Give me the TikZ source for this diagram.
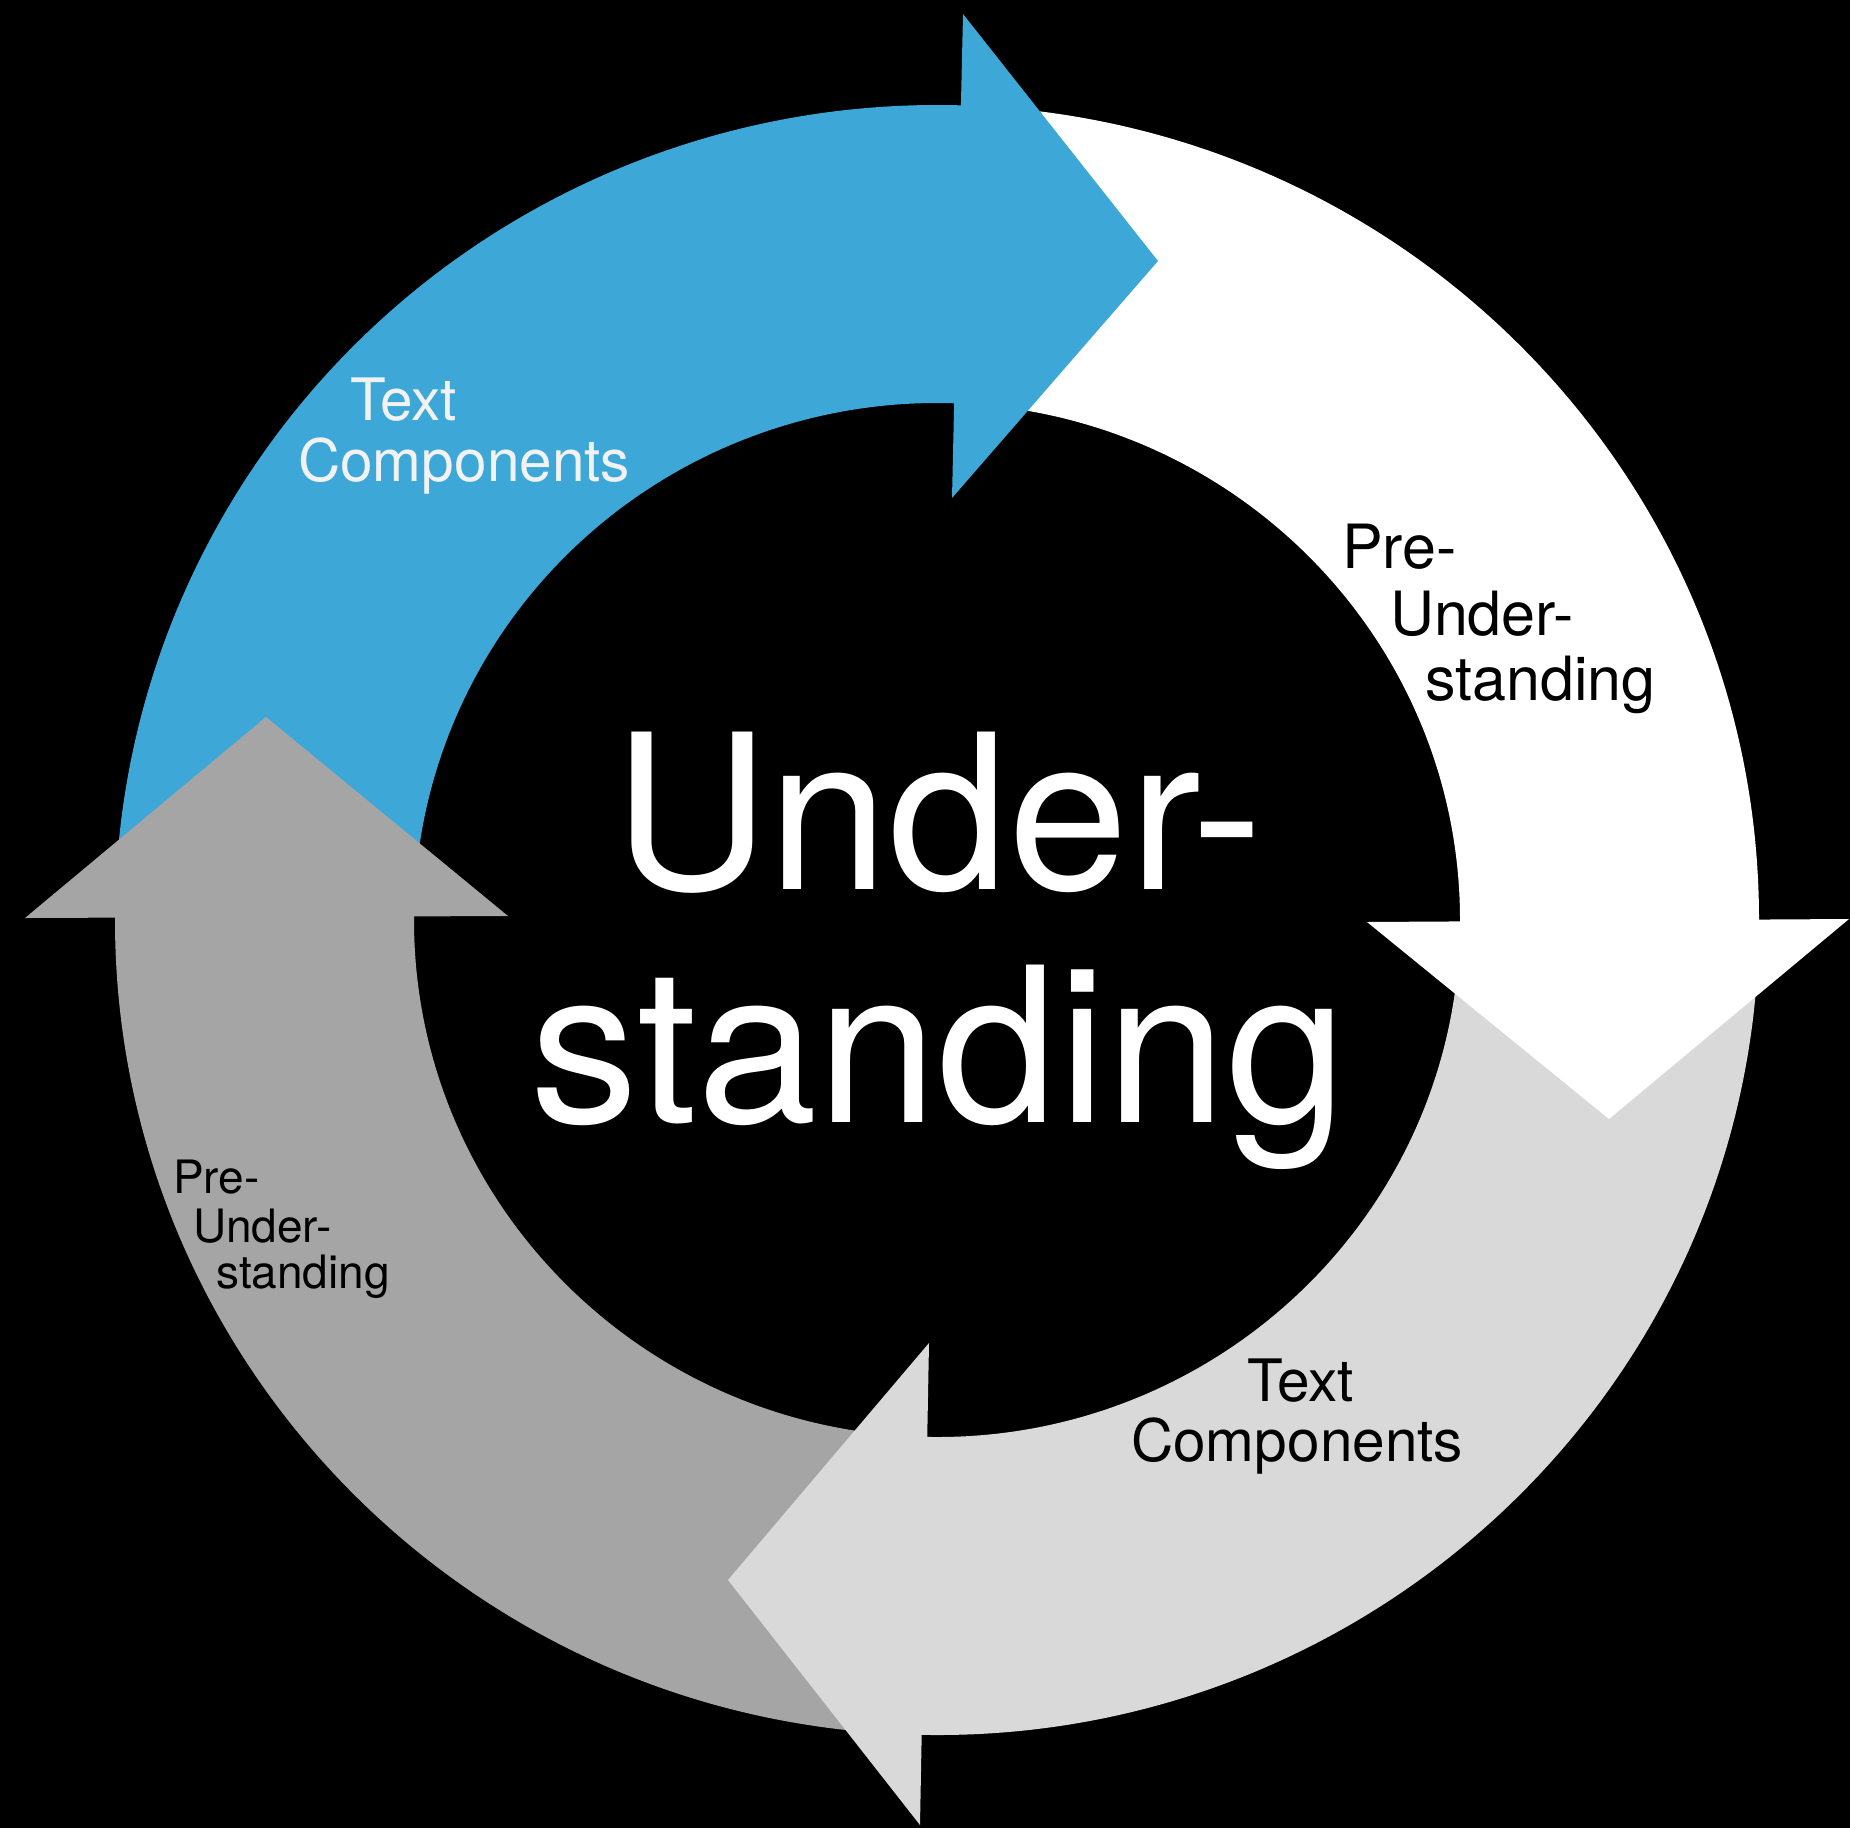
\documentclass[tikz,border=0pt]{standalone}
\usepackage{fontspec}
\setmainfont{TeX Gyre Heros}
\usetikzlibrary{calc}
\definecolor{arcblue}{RGB}{61,168,215}
\definecolor{arclight}{RGB}{217,217,217}
\definecolor{arcdark}{RGB}{165,165,165}
\definecolor{offwhite}{RGB}{242,242,242}

\begin{document}
\begin{tikzpicture}[x=1pt,y=-1pt,
    lbl/.style={anchor=base west, inner sep=0pt}]
    % background and centre of the cycle
    \fill[black] (0,0) rectangle (1850,1828);
    \coordinate (c) at (937,920);

    % ring pieces (tails run under the previous head)
    \foreach \col/\a/\b in {arcblue/178/87, white/86/-1, arclight/-2/-92, arcdark/-93/-181}
        \fill[\col] ($(c)+(\a:822pt and 815pt)$) arc[start angle=\a, end angle=\b, x radius=822pt, y radius=815pt]
            -- ($(c)+(\b:523pt and 517pt)$) arc[start angle=\b, end angle=\a, x radius=523pt, y radius=517pt] -- cycle;

    % arrow heads
    \fill[arcblue] (963,14) -- (1158,261) -- (952,498) -- cycle;
    \fill[white] (1367,922) -- (1609,1119) -- (1849,919) -- cycle;
    \fill[arclight] (929,1343) -- (728,1580) -- (920,1825) -- cycle;
    \fill[arcdark] (25,918) -- (266,717) -- (508,916) -- cycle;

    % centre text
    \node[anchor=base, inner sep=0pt, text=white, font=\fontsize{216}{233}\selectfont] (title1) at (938.5,889) {Under-};
    \node[anchor=base, inner sep=0pt, text=white, font=\fontsize{216}{233}\selectfont] (title2) at (938.5,1122) {standing};

    % labels on the ring
    \node[lbl, text=offwhite, font=\fontsize{58.5}{61}\selectfont] (textA) at (350,420) {Text};
    \node[lbl, text=offwhite, font=\fontsize{58.5}{61}\selectfont] (compA) at (298,481) {Components};
    \node[lbl, font=\fontsize{61}{67}\selectfont] (preA) at (1342,568) {Pre-};
    \node[lbl, font=\fontsize{61}{67}\selectfont] (underA) at (1390,635) {Under-};
    \node[lbl, font=\fontsize{61}{67}\selectfont] (standA) at (1425,700) {standing};
    \node[lbl, font=\fontsize{58.5}{61}\selectfont] (textB) at (1247,1401) {Text};
    \node[lbl, font=\fontsize{58.5}{61}\selectfont] (compB) at (1131,1461) {Components};
    \node[lbl, font=\fontsize{46}{48}\selectfont] (preB) at (173,1193) {Pre-};
    \node[lbl, font=\fontsize{46}{48}\selectfont] (underB) at (193,1242) {Under-};
    \node[lbl, font=\fontsize{46}{48}\selectfont] (standB) at (216,1288) {standing};
\end{tikzpicture}
\end{document}
